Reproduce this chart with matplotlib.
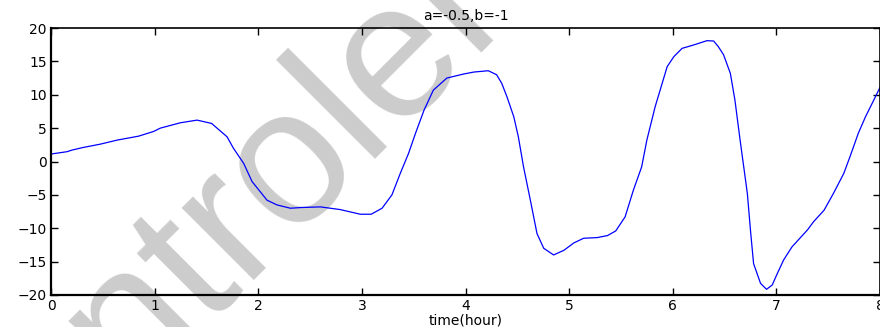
import numpy as np
import matplotlib
matplotlib.use("Agg")
import matplotlib.pyplot as plt

# values
t_hour = [0.0, 0.155, 0.2, 0.31, 0.476, 0.637, 0.846, 0.99, 1.055, 1.248,
          1.41, 1.55, 1.699, 1.76, 1.86, 1.94, 2.085, 2.18, 2.31, 2.41,
          2.6, 2.79, 2.985, 3.09, 3.195, 3.29, 3.37, 3.45, 3.517, 3.6,
          3.69, 3.82, 3.98, 4.08, 4.22, 4.3, 4.35, 4.4, 4.466, 4.51, 4.56,
          4.626, 4.69, 4.755, 4.85, 4.95, 5.045, 5.14, 5.27, 5.37, 5.45,
          5.54, 5.62, 5.70, 5.75, 5.83, 5.946, 6.01, 6.09, 6.2, 6.33,
          6.395, 6.44, 6.49, 6.556, 6.6, 6.65, 6.72, 6.75, 6.78, 6.847, 6.905,
          6.96, 7.01, 7.07, 7.15, 7.3, 7.36, 7.46, 7.55, 7.65, 7.71, 7.79,
          7.86, 7.94, 8.0]
response = [1.12, 1.47, 1.7, 2.1, 2.6, 3.2, 3.8, 4.5, 5.0, 5.8,
            6.2, 5.7, 3.7, 2.0, -0.3, -3.0, -5.8, -6.5, -7.0, -6.9,
            -6.8, -7.2, -7.9, -7.9, -7.0, -5.0, -1.8, 1.2, 4.2, 7.7,
            10.7, 12.5, 13.1, 13.4, 13.6, 13.0, 11.7, 9.7, 6.7, 3.7, -0.8,
            -5.8, -10.8, -13.0, -14.0, -13.3, -12.2, -11.5, -11.4, -11.1, -10.4,
            -8.3, -4.3, -0.8, 3.2, 8.2, 14.2, 15.7, 16.95, 17.45, 18.1,
            18.05, 17.2, 16.0, 13.2, 9.2, 3.2, -4.8, -10.3, -15.3, -18.25, -19.15,
            -18.5, -16.75, -14.75, -12.8, -10.25, -9.0, -7.3, -4.8, -1.8, 0.7, 4.2,
            6.7, 9.2, 11.1]

x_ticks = [0, 1, 2, 3, 4, 5, 6, 7, 8]
y_ticks = [-20, -15, -10, -5, 0, 5, 10, 15, 20]

fig = plt.figure(figsize=(8.8, 3.27), dpi=100, facecolor="white")
ax = fig.add_axes([51 / 880, 1 - 295 / 327, 829 / 880, 267 / 327])
ax.patch.set_alpha(0)

# grey watermark behind everything
fig.text(0.145, -0.203, "ntrolel", rotation=45, rotation_mode="anchor",
         ha="left", va="baseline", fontsize=139, family="Liberation Sans",
         color="#cccccc", zorder=-5)

ax.plot(t_hour, response, color="blue", lw=0.9)

ax.set_xlim(0, 8)
ax.set_ylim(-20, 20)
ax.set_xticks(x_ticks)
ax.set_yticks(y_ticks)
ax.tick_params(direction="in", length=5, width=1, top=True, right=True,
               labelsize=10, pad=3)
for s in ["left", "bottom"]:
    ax.spines[s].set_linewidth(1.6)
for s in ["top", "right"]:
    ax.spines[s].set_linewidth(1.2)

ax.set_title("a=-0.5,b=-1", fontsize=10, pad=6)
ax.set_xlabel("time(hour)", fontsize=10, labelpad=0)

fig.savefig("out.png", dpi=100)
